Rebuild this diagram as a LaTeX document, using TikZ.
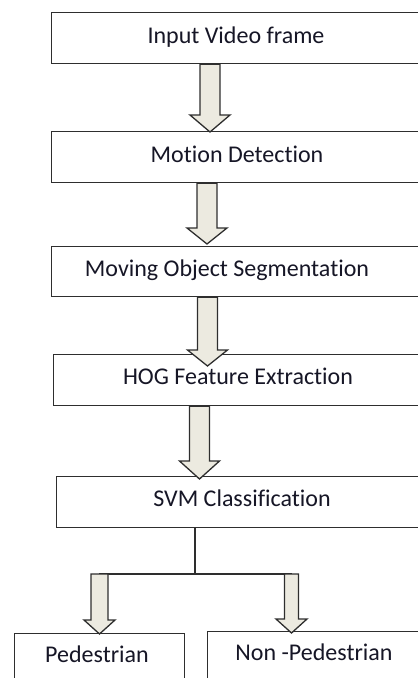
\documentclass[tikz,border=0pt]{standalone}
\usepackage{fontspec}
\setmainfont{Carlito}[Ligatures=NoCommon]
\usetikzlibrary{calc}
\definecolor{inkline}{HTML}{2E2E2E}
\definecolor{arrowfill}{HTML}{ECEAE0}
\definecolor{labeltext}{HTML}{161626}
\tikzset{
  box/.style={draw=inkline, line width=1.3pt, fill=white, rectangle, anchor=north west, inner sep=0pt},
  lbl/.style={anchor=base, text=labeltext, font=\fontsize{24}{29}\selectfont, inner sep=0pt},
  barrow/.style={draw=inkline, line width=1.3pt, fill=arrowfill, line join=miter},
  joinline/.style={draw=inkline, line width=1.3pt},
}
% block arrow: #1 centre x, #2 source, #3 target, #4 overlap of tip into target,
% #5 shaft half width, #6 head half width, #7 head length
\newcommand{\blockarrow}[7]{%
  \draw[barrow] let \p1=(#2), \p2=(#3) in
    (#1-#5,\y1) -- (#1-#5,\y2-#4+#7) -- (#1-#6,\y2-#4+#7) -- (#1,\y2-#4)
    -- (#1+#6,\y2-#4+#7) -- (#1+#5,\y2-#4+#7) -- (#1+#5,\y1) -- cycle;}
\begin{document}
\begin{tikzpicture}[x=1pt,y=-1pt]
\useasboundingbox (0,0) rectangle (418,678);
\clip (0,0) rectangle (418,678);

% process boxes (they run past the right edge)
\node[box, minimum width=370pt, minimum height=51pt] (b1) at (51,12) {};
\node[box, minimum width=370pt, minimum height=51pt] (b2) at (51,131) {};
\node[box, minimum width=370pt, minimum height=50pt] (b3) at (51,246) {};
\node[box, minimum width=368pt, minimum height=51pt] (b4) at (53,354) {};
\node[box, minimum width=365pt, minimum height=51pt] (b5) at (56,476) {};
\node[box, minimum width=170pt, minimum height=60pt] (b6) at (14,633) {};
\node[box, minimum width=220pt, minimum height=60pt] (b7) at (207,631) {};

% labels
\node[lbl] (t1) at (236,43) {Input Video frame};
\node[lbl] (t2) at (237,162) {Motion Detection};
\node[lbl] (t3) at (227,276) {Moving Object Segmentation};
\node[lbl] (t4) at (238,384) {HOG Feature Extraction};
\node[lbl] (t5) at (242,506) {SVM Classification};
\node[lbl] (t6) at (97,662) {Pedestrian};
\node[lbl] (t7) at (314,660) {Non -Pedestrian};

% branch from the classifier
\coordinate (split) at (195,574);
\coordinate (lsrc) at (99,574);
\coordinate (rsrc) at (292,574);
\draw[joinline] (b5.south -| split) -- (split);
\draw[joinline] (lsrc) -- (rsrc);

% block arrows
\blockarrow{210pt}{b1.south}{b2.north}{1pt}{10pt}{20pt}{17pt}
\blockarrow{207pt}{b2.south}{b3.north}{-2pt}{10pt}{20pt}{16pt}
\blockarrow{207.5pt}{b3.south}{b4.north}{12pt}{10pt}{20pt}{16pt}
\blockarrow{199.5pt}{b4.south}{b5.north}{3pt}{10pt}{20pt}{18pt}
\blockarrow{99.5pt}{lsrc}{b6.north}{1pt}{8.5pt}{15.5pt}{14pt}
\blockarrow{291.5pt}{rsrc}{b7.north}{2pt}{7pt}{15.5pt}{14pt}
\end{tikzpicture}
\end{document}
